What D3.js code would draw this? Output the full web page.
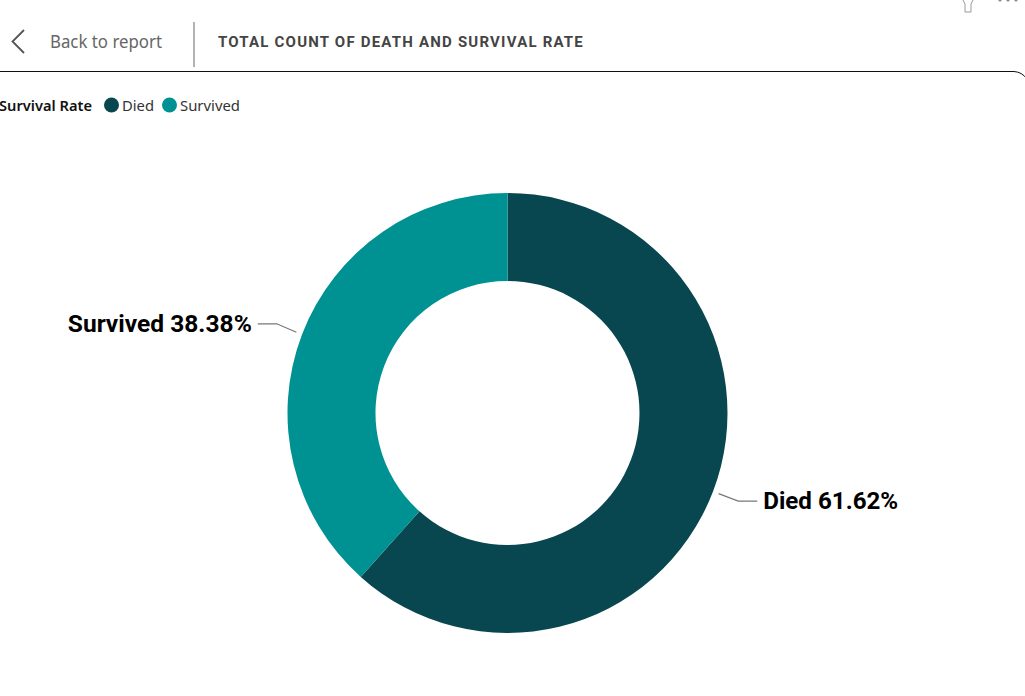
<!DOCTYPE html>
<html><head><meta charset="utf-8">
<script src="https://cdn.jsdelivr.net/npm/d3@7/dist/d3.min.js"></script>
<style>html,body{margin:0;padding:0;background:#fff;overflow:hidden}svg{display:block}</style>
</head><body><svg id="c" width="1025" height="696"></svg>
<script>
const categories=["Died","Survived"];
const seriesValues=[61.62,38.38];
const colors=["#084650","#009292"];
const legendTitle="Survival Rate";
const pageTitle="TOTAL COUNT OF DEATH AND SURVIVAL RATE";
const backLabel="Back to report";

const svg=d3.select("#c");
const din="'Roboto','Liberation Sans',sans-serif", ui="'Noto Sans','Open Sans',sans-serif";

// header
svg.append("path").attr("d","M24,30L12.5,41.5L24,53").attr("fill","none").attr("stroke","#555").attr("stroke-width",1.8);
svg.append("text").attr("x",50).attr("y",48).attr("font-family",ui).attr("font-size",18).attr("fill","#666")
  .attr("textLength",112).attr("lengthAdjust","spacingAndGlyphs").text(backLabel);
svg.append("line").attr("x1",194).attr("x2",194).attr("y1",22).attr("y2",67).attr("stroke","#999").attr("stroke-width",1.5);
svg.append("text").attr("x",218).attr("y",47).attr("font-family",din).attr("font-weight",700).attr("font-size",15)
  .attr("fill","#444").attr("letter-spacing",1.2).attr("textLength",366).attr("lengthAdjust","spacingAndGlyphs").text(pageTitle);

// card border
svg.append("path").attr("d","M-5,71.5H1014Q1022,72 1027,79").attr("fill","none").attr("stroke","#111").attr("stroke-width",1);

// top-right icons
svg.append("path").attr("d","M962.5,-1L965,4V12H971V4L973.5,-1").attr("fill","none").attr("stroke","#999").attr("stroke-width",1);
svg.selectAll("circle.dot").data([1000,1008,1016]).join("circle").attr("class","dot").attr("cx",d=>d).attr("cy",0).attr("r",1.6).attr("fill","#888");

// legend
svg.append("text").attr("x",-1).attr("y",110.5).attr("font-family",ui).attr("font-weight",600).attr("font-size",14.5).attr("fill","#111")
  .attr("textLength",93).attr("lengthAdjust","spacingAndGlyphs").text(legendTitle);
const legendX=[111.5,169.5];
const legendW=[32,60];
categories.forEach((c,i)=>{
  svg.append("circle").attr("cx",legendX[i]).attr("cy",105).attr("r",7.5).attr("fill",colors[i]);
  svg.append("text").attr("x",legendX[i]+10.5).attr("y",110.5).attr("font-family",ui).attr("font-size",15).attr("fill","#333")
    .attr("textLength",legendW[i]).attr("lengthAdjust","spacingAndGlyphs").text(c);
});

// donut
const cx=507.5,cy=413,R=220,r=132;
const pie=d3.pie().sort(null).value(d=>d)(seriesValues);
const arc=d3.arc().innerRadius(r).outerRadius(R);
const g=svg.append("g").attr("transform",`translate(${cx},${cy})`);
g.selectAll("path").data(pie).join("path").attr("d",arc).attr("fill",(d,i)=>colors[i]);

// leaders + labels
const labelW=[135,184];
pie.forEach((d,i)=>{
  const a=(d.startAngle+d.endAngle)/2, s=Math.sin(a), c=Math.cos(a);
  const p0=[s*(R+6),-c*(R+6)];
  const dir=s>0?1:-1;
  const p1=[s*(R+27),-c*(R+27)+(dir>0?0:-1)];
  const p2=[p1[0]+dir*19,p1[1]];
  g.append("polyline").attr("points",[p0,p1,p2].map(p=>p.join(",")).join(" "))
    .attr("fill","none").attr("stroke","#777").attr("stroke-width",1.2);
  g.append("text").attr("x",p2[0]+dir*6).attr("y",p2[1]+8).attr("text-anchor",dir>0?"start":"end")
    .attr("font-family",din).attr("font-weight",700).attr("font-size",24).attr("fill","#000")
    .attr("textLength",labelW[i]).attr("lengthAdjust","spacingAndGlyphs")
    .text(`${categories[i]} ${seriesValues[i].toFixed(2)}%`);
});
</script></body></html>
